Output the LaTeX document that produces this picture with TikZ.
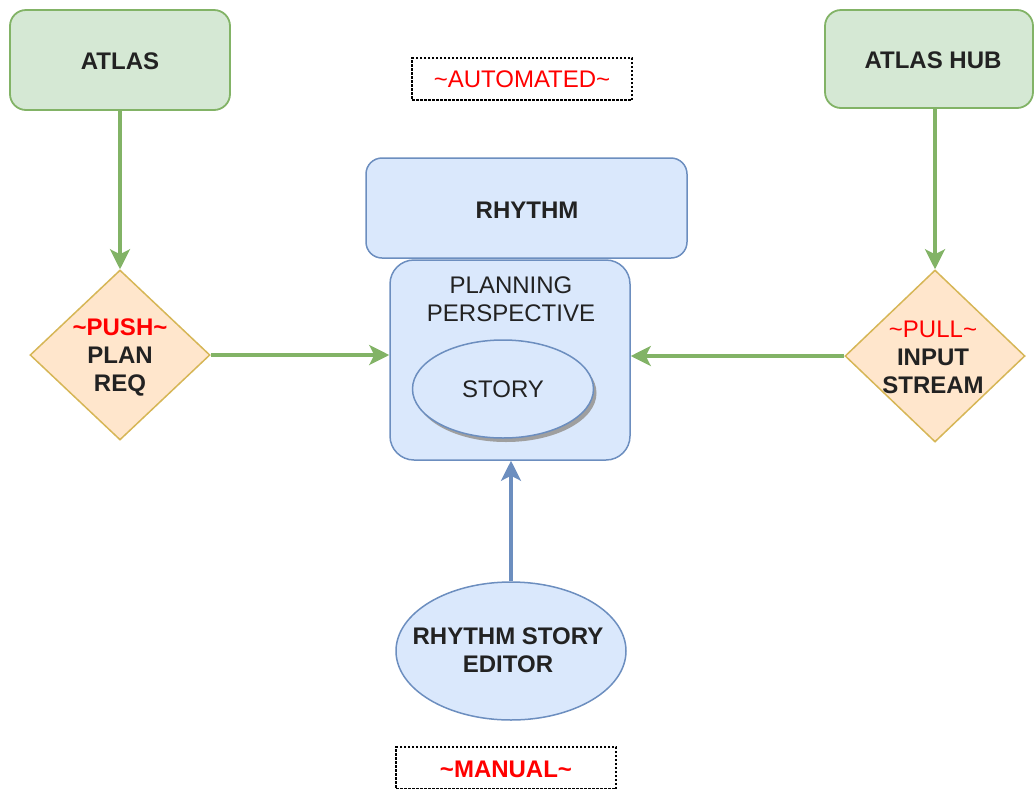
\documentclass[tikz,border=0pt]{standalone}
\usepackage{fontspec}
\setmainfont{Liberation Sans}
\usetikzlibrary{shapes.geometric,arrows.meta,shadows}
\definecolor{gfill}{HTML}{D5E8D4}
\definecolor{gline}{HTML}{82B366}
\definecolor{ofill}{HTML}{FFE6CC}
\definecolor{oline}{HTML}{D6B656}
\definecolor{bfill}{HTML}{DAE8FC}
\definecolor{bline}{HTML}{6C8EBF}
\definecolor{txt}{HTML}{222222}
\definecolor{redt}{HTML}{FF0000}
\newcommand\bigfs{\fontsize{24}{28}\selectfont}
\begin{document}
\begin{tikzpicture}[x=1pt,y=-1pt,
  greenbox/.style={draw=gline,fill=gfill,line width=1.8pt,rounded corners=16pt,inner sep=0pt},
  bluebox/.style={draw=bline,fill=bfill,line width=1.5pt,inner sep=0pt},
  orangedia/.style={diamond,draw=oline,fill=ofill,line width=1.5pt,inner sep=0pt},
  dashbox/.style={draw=black,line width=1.3pt,dash pattern=on 2.5pt off 1.5pt,inner sep=0pt},
  lbl/.style={font=\bigfs\bfseries,text=txt,align=center,inner sep=0pt},
  lblr/.style={font=\bigfs,text=txt,align=center,inner sep=0pt},
  garrow/.style={draw=gline,line width=3.2pt,-{Stealth[length=20pt,width=20pt,inset=5pt]}},
  barrow/.style={draw=bline,line width=3.2pt,-{Stealth[length=20pt,width=20pt,inset=5pt]}}
]
\useasboundingbox (0,0) rectangle (1034,788);

% top boxes
\node[greenbox,minimum width=220pt,minimum height=100pt] (atlas) at (120,60) {};
\node[lbl] (atlastxt) at (120,61) {ATLAS};
\node[greenbox,minimum width=208pt,minimum height=98pt] (hub) at (929,59) {};
\node[lbl] (hubtxt) at (933,60) {ATLAS HUB};

\node[dashbox,minimum width=220pt,minimum height=42pt] (auto) at (522,79) {};
\node[font=\bigfs,text=redt,inner sep=0pt] (autotxt) at (522,79) {\textasciitilde AUTOMATED\textasciitilde};

% central
\node[bluebox,rounded corners=16pt,minimum width=321pt,minimum height=100pt] (rhythm) at (526.5,208) {};
\node[lbl] (rhythmtxt) at (527,210) {RHYTHM};
\node[bluebox,rounded corners=24pt,minimum width=240pt,minimum height=200pt] (pp) at (510,360) {};
\node[lblr] (pptxt) at (511,299) {PLANNING\\PERSPECTIVE};
\node[ellipse,draw=bline,fill=bfill,line width=1.5pt,minimum width=181pt,minimum height=98pt,inner sep=0pt,
  drop shadow={shadow xshift=3pt,shadow yshift=-4pt,fill=gray!75,opacity=1}] (story) at (503,389) {};
\node[lblr] (storytxt) at (503,389) {STORY};

% diamonds
\node[orangedia,minimum width=180pt,minimum height=170pt] (push) at (120,355) {};
\node[lbl] (pushtxt) at (120,357.5) {{\color{redt}\textasciitilde PUSH\textasciitilde}\\PLAN\\REQ};
\node[orangedia,minimum width=180pt,minimum height=172pt] (pull) at (935,356) {};
\node[lbl] (pulltxt) at (933,357.5) {{\mdseries\color{redt}\textasciitilde PULL\textasciitilde}\\INPUT\\STREAM};

% editor
\node[ellipse,draw=bline,fill=bfill,line width=1.5pt,minimum width=230pt,minimum height=138pt,inner sep=0pt] (editor) at (511,651) {};
\node[lbl] (editortxt) at (508,650) {RHYTHM STORY\\EDITOR};

\node[dashbox,minimum width=220pt,minimum height=42pt] (manual) at (506,768) {};
\node[font=\bigfs\bfseries,text=redt,inner sep=0pt] (manualtxt) at (506,769) {\textasciitilde MANUAL\textasciitilde};

% connectors
\draw[garrow] (atlas.south) -- (push.north);
\draw[garrow] (hub.south -| pull.north) -- (pull.north);
\draw[garrow] (push.east) -- (push.east -| pp.west);
\draw[garrow] (pull.west) -- (pull.west -| pp.east);
\draw[barrow] (editor.north) -- (editor.north |- pp.south);
\end{tikzpicture}
\end{document}
